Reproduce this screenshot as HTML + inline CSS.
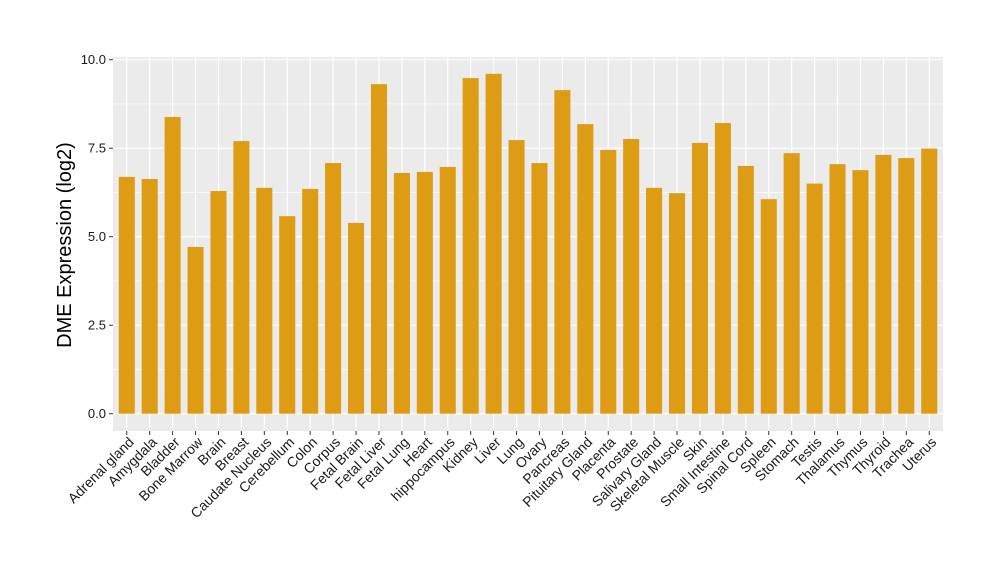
<!DOCTYPE html>
<html><head><meta charset="utf-8"><style>body{margin:0;background:#fff}svg{display:block;font-family:"Liberation Sans",sans-serif}</style></head>
<body><svg id="s" width="1000" height="580" xmlns="http://www.w3.org/2000/svg"></svg>
<script>
const names=["Adrenal gland","Amygdala","Bladder","Bone Marrow","Brain","Breast","Caudate Nucleus","Cerebellum","Colon","Corpus","Fetal Brain","Fetal Liver","Fetal Lung","Heart","hippocampus","Kidney","Liver","Lung","Ovary","Pancreas","Pituitary Gland","Placenta","Prostate","Salivary Gland","Skeletal Muscle","Skin","Small Intestine","Spinal Cord","Spleen","Stomach","Testis","Thalamus","Thymus","Thyroid","Trachea","Uterus"];
const vals=[6.69,6.63,8.38,4.71,6.29,7.70,6.38,5.58,6.35,7.08,5.39,9.31,6.80,6.83,6.97,9.48,9.60,7.73,7.08,9.14,8.18,7.45,7.76,6.38,6.23,7.65,8.21,7.00,6.06,7.36,6.50,7.05,6.88,7.31,7.22,7.49];
const L=113,R=943,T=57,B=431,y0=413.7,k=35.4,n=names.length,u=(R-L)/(n+0.2);
let h=`<rect x="${L}" y="${T}" width="${R-L}" height="${B-T}" fill="#ebebeb"/>`;
for(let v=1.25;v<10;v+=2.5)h+=`<line x1="${L}" x2="${R}" y1="${y0-v*k}" y2="${y0-v*k}" stroke="#fff" stroke-width="0.6"/>`;
for(let v=0;v<=10;v+=2.5){const y=y0-v*k;h+=`<line x1="${L}" x2="${R}" y1="${y}" y2="${y}" stroke="#fff" stroke-width="1.2"/><line x1="${L-4}" x2="${L}" y1="${y}" y2="${y}" stroke="#333" stroke-width="1"/><text x="${L-7}" y="${y+4.5}" font-size="13" text-anchor="end" fill="#1a1a1a">${v.toFixed(1)}</text>`;}
for(let i=0;i<n;i++){const c=L+(i+0.6)*u;h+=`<line x1="${c}" x2="${c}" y1="${T}" y2="${B}" stroke="#fff" stroke-width="1.2"/>`;}
for(let i=0;i<n;i++){const c=L+(i+0.6)*u,w=0.7*u;h+=`<rect x="${c-w/2}" y="${y0-vals[i]*k}" width="${w}" height="${vals[i]*k}" fill="#de9b14"/><line x1="${c}" x2="${c}" y1="${B}" y2="${B+4}" stroke="#333"/><text transform="translate(${c+8},${B+12}) rotate(-45)" font-size="14" text-anchor="end" fill="#1a1a1a">${names[i]}</text>`;}
h+=`<text transform="translate(71,245) rotate(-90)" font-size="20" text-anchor="middle" fill="#000">DME Expression (log2)</text>`;
document.getElementById('s').innerHTML=h;
</script></body></html>
